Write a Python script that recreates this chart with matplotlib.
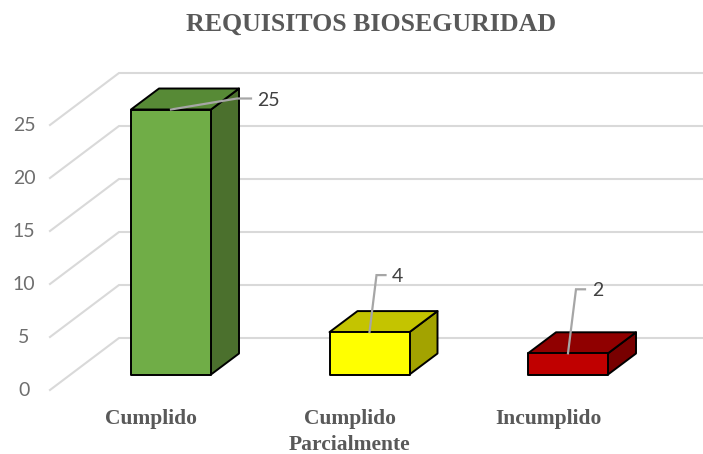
#!/usr/bin/env python3
"""Requisitos bioseguridad: fake-3D column chart."""
import matplotlib
matplotlib.use("Agg")
import matplotlib.pyplot as plt
from matplotlib.patches import Polygon, Rectangle

W, H = 703, 454

categories = ["Cumplido", "Cumplido\nParcialmente", "Incumplido"]
values = [25, 4, 2]
ticks = [0, 5, 10, 15, 20, 25]
front_colors = ["#70ad47", "#ffff00", "#c00000"]
top_colors = ["#578a36", "#c4c400", "#900000"]
side_colors = ["#4b702d", "#a3a300", "#780000"]

# scales
PX_X = 198.5      # px per category
PX_Y = 10.6       # px per value unit
X0_PX, Y0_PX = 171, 374.5   # first bar centre / bar base


def dx(px):
    return px / PX_X


def dy(px):
    return px / PX_Y


fig = plt.figure(figsize=(W / 100, H / 100), dpi=100)
ax = fig.add_axes([0, 0, 1, 1])
ax.set_xlim(dx(-X0_PX), dx(W - X0_PX))
ax.set_ylim(dy(Y0_PX - H), dy(Y0_PX))
ax.axis("off")

GRID = "#d9d9d9"
TXT = "#595959"
sans = ["Lato", "DejaVu Sans"]
serif = ["Liberation Serif", "DejaVu Serif"]

# back wall gridlines + left wall diagonals
for t in ticks:
    back = t + dy(36.5)
    front = t - dy(15.5)
    ax.plot([dx(50 - X0_PX), dx(119 - X0_PX), dx(W - X0_PX)], [front, back, back],
            color=GRID, lw=1.5, solid_joinstyle="miter", zorder=1)
    ax.text(dx(24 - X0_PX), t - dy(16), str(t), color="#6e6e6e", fontsize=14,
            family=sans, ha="center", va="center")

# bars
bw = dx(80)
ddx, ddy = dx(28), dy(21)
for i, v in enumerate(values):
    l, r = i - bw / 2, i + bw / 2
    kw = dict(edgecolor="black", lw=1.4, joinstyle="round", zorder=3)
    ax.add_patch(Polygon([(r, 0), (r + ddx, ddy), (r + ddx, v + ddy), (r, v)],
                         facecolor=side_colors[i], **kw))
    ax.add_patch(Polygon([(l, v), (l + ddx, v + ddy), (r + ddx, v + ddy), (r, v)],
                         facecolor=top_colors[i], **kw))
    ax.add_patch(Rectangle((l, 0), bw, v, facecolor=front_colors[i], **kw))

# leader lines and data labels, offsets in px from the bar top centre
elbows = [(66, 11), (7, 57), (8, 64)]
ends = [(80, 11), (16, 57), (17, 64)]
label_offs = [(97, 9.5), (28, 55.5), (30, 62.5)]
for i, v in enumerate(values):
    xs = [i, i + dx(elbows[i][0]), i + dx(ends[i][0])]
    ys = [v, v + dy(elbows[i][1]), v + dy(ends[i][1])]
    ax.plot(xs, ys, color="#a6a6a6", lw=1.6, zorder=4, solid_joinstyle="miter")
    ax.text(i + dx(label_offs[i][0]), v + dy(label_offs[i][1]), str(v), color="#404040",
            fontsize=14, family=sans, ha="center", va="center", zorder=5)

# category labels
for i, c in enumerate(categories):
    ax.text(i - dx(20), dy(Y0_PX - 409), c, color=TXT, fontsize=15.5, fontweight="bold",
            family=serif, ha="center", va="top", linespacing=1.42)

ax.text(dx(371 - X0_PX), dy(Y0_PX - 24), "REQUISITOS BIOSEGURIDAD", color=TXT, fontsize=18.6,
        fontweight="bold", family=serif, ha="center", va="center")

fig.savefig("out.png", dpi=100)
